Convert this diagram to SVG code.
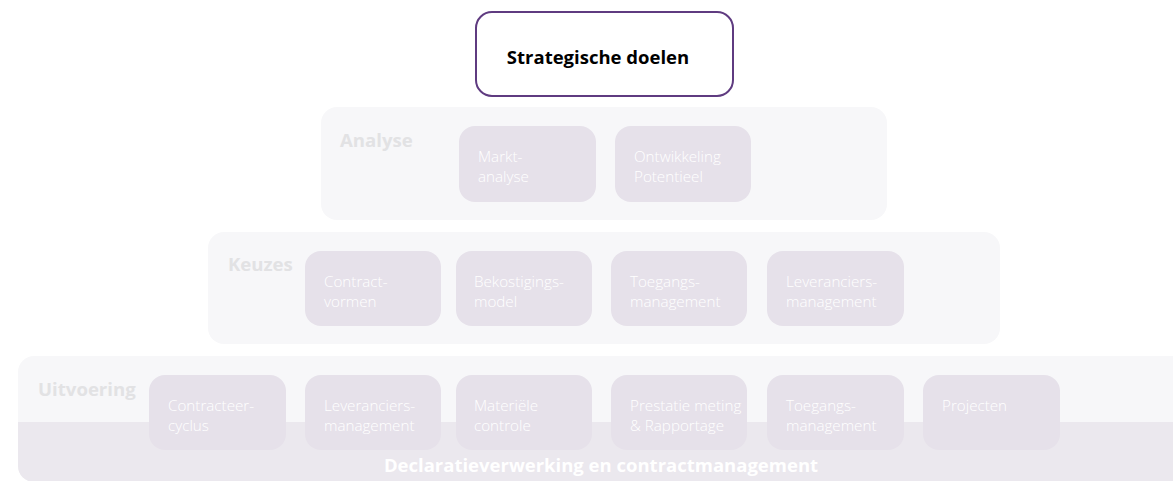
<svg xmlns="http://www.w3.org/2000/svg" width="1173" height="481" viewBox="0 0 1173 481">
<style>
.panel{fill:#f7f7f9}
.band{fill:#ebe8ee}
.box{fill:#e6e1ea}
.lbl{font-family:"Open Sans","Liberation Sans",sans-serif;font-weight:700;font-size:18.6px;fill:#e2e2e4}
.bt{font-family:"Open Sans","Liberation Sans",sans-serif;font-weight:300;font-size:15.2px;fill:#ffffff}
.foot{font-family:"Open Sans","Liberation Sans",sans-serif;font-weight:700;font-size:18.5px;fill:#ffffff}
.title{font-family:"Open Sans","Liberation Sans",sans-serif;font-weight:700;font-size:18.5px;fill:#000000}
</style>
<rect width="1173" height="481" fill="#ffffff"/>
<g id="strategische-doelen">
<rect x="476" y="12" width="257" height="84" rx="16" fill="#ffffff" stroke="#5f3b80" stroke-width="2"/>
<text class="title" x="598" y="64" text-anchor="middle">Strategische doelen</text>
</g>
<g id="analyse">
<rect class="panel" x="321" y="107" width="566" height="113" rx="16"/>
<text class="lbl" x="340" y="147">Analyse</text>
</g>
<g id="marktanalyse">
<rect class="box" x="459" y="126" width="137" height="76" rx="16"/>
<text class="bt" x="478" y="162">Markt-</text><text class="bt" x="478" y="182">analyse</text>
</g>
<g id="ontwikkeling">
<rect class="box" x="615" y="126" width="136" height="76" rx="16"/>
<text class="bt" x="634" y="162">Ontwikkeling</text><text class="bt" x="634" y="182">Potentieel</text>
</g>
<g id="keuzes">
<rect class="panel" x="208" y="232" width="792" height="112" rx="16"/>
<text class="lbl" x="228" y="271">Keuzes</text>
</g>
<g id="contractvormen">
<rect class="box" x="305" y="251" width="136" height="75" rx="16"/>
<text class="bt" x="324" y="287">Contract-</text><text class="bt" x="324" y="307">vormen</text>
</g>
<g id="bekostigingsmodel">
<rect class="box" x="456" y="251" width="136" height="75" rx="16"/>
<text class="bt" x="474" y="287">Bekostigings-</text><text class="bt" x="474" y="307">model</text>
</g>
<g id="toegangsmanagement-k">
<rect class="box" x="611" y="251" width="136" height="75" rx="16"/>
<text class="bt" x="630" y="287">Toegangs-</text><text class="bt" x="630" y="307">management</text>
</g>
<g id="leveranciersmanagement-k">
<rect class="box" x="767" y="251" width="137" height="75" rx="16"/>
<text class="bt" x="786" y="287">Leveranciers-</text><text class="bt" x="786" y="307">management</text>
</g>
<g id="uitvoering">
<rect class="panel" x="18" y="356" width="1175" height="126" rx="16"/>
<path class="band" d="M18,422 H1173 V466 a16,16 0 0 1 0,0 V482 H34 a16,16 0 0 1 -16,-16 Z"/>
<text class="lbl" x="38" y="396">Uitvoering</text>
</g>
<g id="contracteercyclus">
<rect class="box" x="149" y="375" width="137" height="75" rx="16"/>
<text class="bt" x="168" y="411">Contracteer-</text><text class="bt" x="168" y="431">cyclus</text>
</g>
<g id="leveranciersmanagement-u">
<rect class="box" x="305" y="375" width="136" height="75" rx="16"/>
<text class="bt" x="324" y="411">Leveranciers-</text><text class="bt" x="324" y="431">management</text>
</g>
<g id="materiele-controle">
<rect class="box" x="456" y="375" width="136" height="75" rx="16"/>
<text class="bt" x="474" y="411">Materiële</text><text class="bt" x="474" y="431">controle</text>
</g>
<g id="prestatie-meting">
<rect class="box" x="611" y="375" width="136" height="75" rx="16"/>
<text class="bt" x="630" y="411">Prestatie meting</text><text class="bt" x="630" y="431">&amp; Rapportage</text>
</g>
<g id="toegangsmanagement-u">
<rect class="box" x="767" y="375" width="137" height="75" rx="16"/>
<text class="bt" x="786" y="411">Toegangs-</text><text class="bt" x="786" y="431">management</text>
</g>
<g id="projecten">
<rect class="box" x="923" y="375" width="137" height="75" rx="16"/>
<text class="bt" x="942" y="411">Projecten</text>
</g>
<g id="declaratie">
<text class="foot" x="601" y="472" text-anchor="middle">Declaratieverwerking en contractmanagement</text>
</g>
<g id="connectors"></g>
</svg>
